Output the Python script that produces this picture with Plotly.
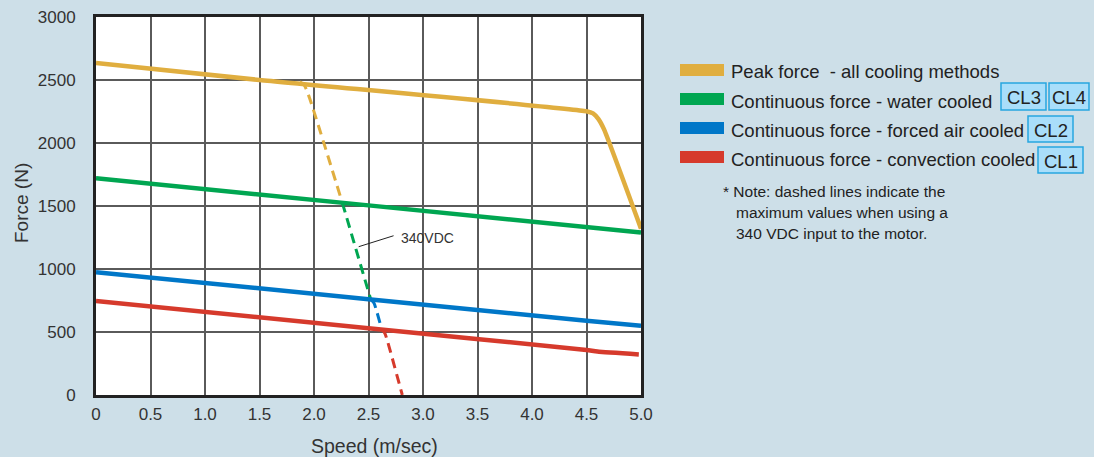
import plotly.graph_objects as go

# ---- data ----
peak_x = [0, 1.5, 4.5, 4.56, 4.61, 4.66, 5.0]
peak_y = [2635, 2500, 2252, 2235, 2190, 2110, 1320]
water_x = [0, 2.5, 5.0]
water_y = [1720, 1505, 1290]
air_x = [0, 2.5, 4.5, 5.0]
air_y = [975, 760, 590, 550]
conv_x = [0, 2.5, 4.5, 4.6, 4.98]
conv_y = [746, 530, 357, 345, 322]

peak_dash_x = [1.87, 1.91, 1.95, 2.26]
peak_dash_y = [2485, 2460, 2380, 1525]
water_dash_x = [2.26, 2.52]
water_dash_y = [1525, 760]
air_dash_x = [2.52, 2.55, 2.57, 2.62]
air_dash_y = [760, 730, 680, 525]
conv_dash_x = [2.62, 2.65, 2.67, 2.81]
conv_dash_y = [525, 490, 440, 0]

x_ticks = [0, 0.5, 1.0, 1.5, 2.0, 2.5, 3.0, 3.5, 4.0, 4.5, 5.0]
x_tick_labels = ["0", "0.5", "1.0", "1.5", "2.0", "2.5", "3.0", "3.5", "4.0", "4.5", "5.0"]
y_ticks = [0, 500, 1000, 1500, 2000, 2500, 3000]

legend_names = [
    "Peak force  - all cooling methods",
    "Continuous force - water cooled",
    "Continuous force - forced air cooled",
    "Continuous force - convection cooled",
]
colors = ["#e0ae3f", "#00a651", "#0077c8", "#d63a2c"]
note_lines = ["* Note: dashed lines indicate the",
              "maximum values when using a",
              "340 VDC input to the motor."]

FONT = "Arial, Liberation Sans, sans-serif"
BG = "#cddfe8"
W, H = 1094, 457
L, R, T, B = 96, 641, 17, 395

fig = go.Figure()
solid = [(peak_x, peak_y), (water_x, water_y), (air_x, air_y), (conv_x, conv_y)]
dashed = [(peak_dash_x, peak_dash_y), (water_dash_x, water_dash_y),
          (air_dash_x, air_dash_y), (conv_dash_x, conv_dash_y)]
for (dx, dy), c in zip(dashed, colors):
    fig.add_trace(go.Scatter(x=dx, y=dy, mode="lines", showlegend=False,
                             line=dict(color=c, width=3, dash="10px,6px", shape="spline", smoothing=0.6),
                             hoverinfo="skip"))
for (sx, sy), c, n in zip(solid, colors, legend_names):
    fig.add_trace(go.Scatter(x=sx, y=sy, mode="lines", name=n, showlegend=False,
                             line=dict(color=c, width=4.5, shape="spline", smoothing=0.5)))

# annotation 340VDC
fig.add_shape(type="line", x0=2.41, y0=1177, x1=2.73, y1=1264, xref="x", yref="y",
              line=dict(color="#222", width=1))
fig.add_annotation(x=2.78, y=1250, xref="x", yref="y", text="340VDC", showarrow=False,
                   xanchor="left", yanchor="middle", font=dict(size=14, color="#333", family=FONT))

def px(xp):
    return (xp - L) / (R - L)

def py(yp):
    return (B - yp) / (B - T)

# axis titles
fig.add_annotation(xref="paper", yref="paper", x=px(374), y=py(446), text="Speed (m/sec)",
                   showarrow=False, xanchor="center", yanchor="middle",
                   font=dict(size=19.5, color="#333", family=FONT))
fig.add_annotation(xref="paper", yref="paper", x=px(21), y=py(203), text="Force (N)",
                   showarrow=False, xanchor="center", yanchor="middle", textangle=-90,
                   font=dict(size=19, color="#333", family=FONT))

# custom legend
rows_y = [70, 99, 128, 157]
for c, n, ry in zip(colors, legend_names, rows_y):
    fig.add_shape(type="rect", xref="paper", yref="paper",
                  x0=px(680), x1=px(724), y0=py(ry + 6), y1=py(ry - 6),
                  fillcolor=c, line=dict(width=0))
    fig.add_annotation(xref="paper", yref="paper", x=px(729), y=py(ry + 2), text=n,
                       showarrow=False, xanchor="left", yanchor="middle",
                       font=dict(size=18.5, color="#222", family=FONT))

boxes = [("CL3", 1001, 1046, 83, 110), ("CL4", 1049, 1089, 83, 110),
         ("CL2", 1028, 1073, 116, 142), ("CL1", 1038, 1083, 147, 173)]
for txt, x0, x1, y0, y1 in boxes:
    fig.add_shape(type="rect", xref="paper", yref="paper",
                  x0=px(x0), x1=px(x1), y0=py(y1), y1=py(y0),
                  fillcolor="#a9defa", line=dict(color="#27a6df", width=1.5))
    fig.add_annotation(xref="paper", yref="paper", x=px((x0 + x1) / 2), y=py((y0 + y1) / 2 + 1),
                       text=txt, showarrow=False, xanchor="center", yanchor="middle",
                       font=dict(size=18.5, color="#222", family=FONT))

for i, line in enumerate(note_lines):
    fig.add_annotation(xref="paper", yref="paper", x=px(721 if i == 0 else 734), y=py(192 + 20.5 * i),
                       text=line, showarrow=False, xanchor="left", yanchor="middle",
                       font=dict(size=15.5, color="#222", family=FONT))

fig.update_layout(
    width=W, height=H,
    margin=dict(l=L, r=W - R, t=T, b=H - B, autoexpand=False),
    paper_bgcolor=BG, plot_bgcolor="#ffffff",
    font=dict(family=FONT, color="#333", size=17),
    showlegend=False,
)
fig.update_xaxes(range=[0, 5], tickvals=x_ticks, ticktext=x_tick_labels,
                 showgrid=True, gridcolor="#5a5a5a", gridwidth=1.5,
                 showline=True, linecolor="#222", linewidth=3, mirror=True,
                 zeroline=False, ticks="", ticklabelstandoff=2, automargin=False,
                 tickfont=dict(size=17, color="#333"))
fig.update_yaxes(range=[0, 3000], tickvals=y_ticks,
                 showgrid=True, gridcolor="#5a5a5a", gridwidth=1.5,
                 showline=True, linecolor="#222", linewidth=3, mirror=True,
                 zeroline=False, ticks="", ticklabelstandoff=14, automargin=False,
                 tickfont=dict(size=17, color="#333"))

fig.write_html("out.html", config={"displayModeBar": False},
               post_script="document.body.style.margin='0';document.body.style.background='%s';" % BG)
